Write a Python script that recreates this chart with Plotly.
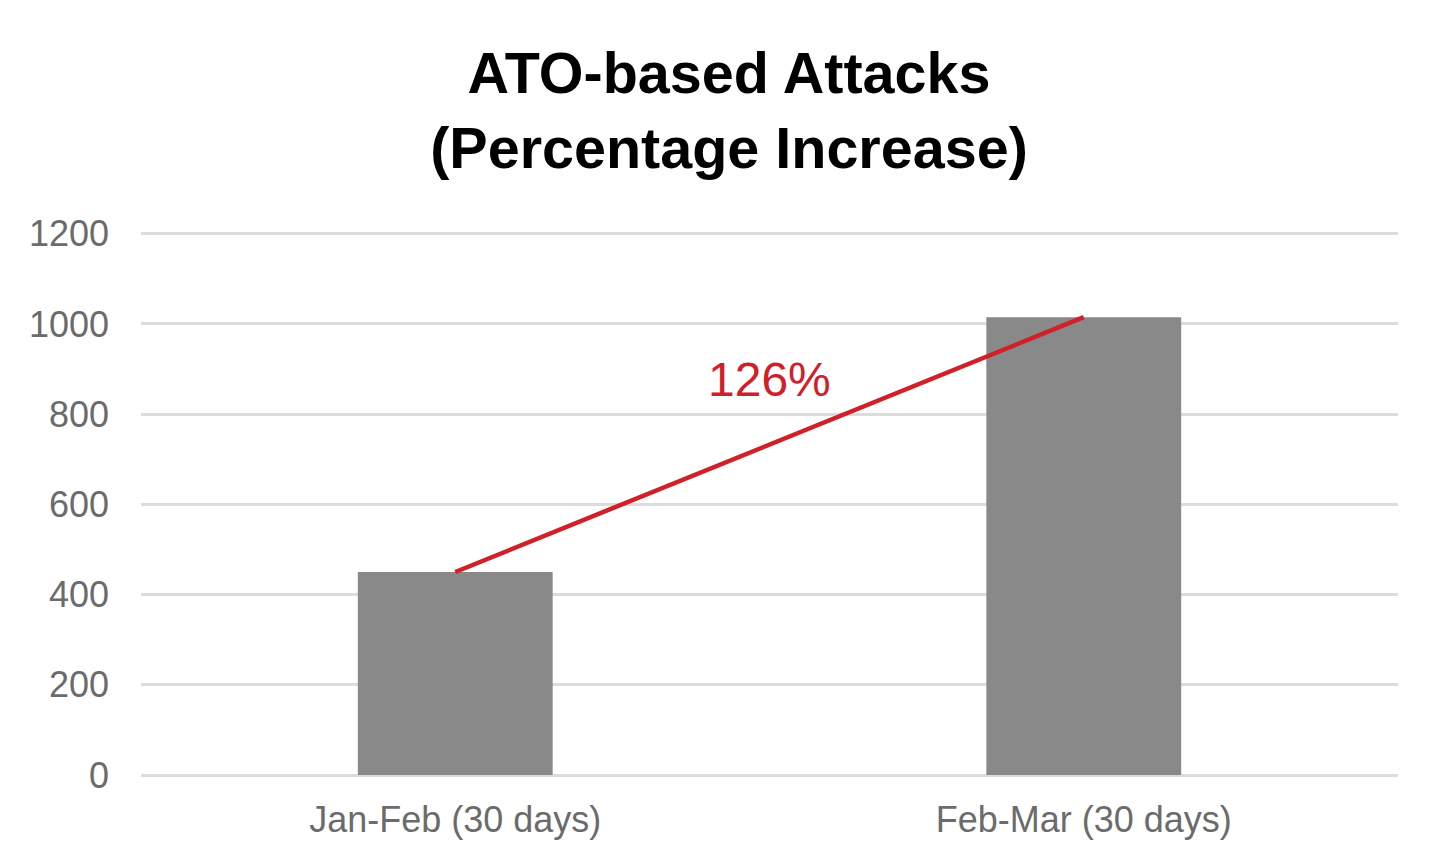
import plotly.graph_objects as go

categories = ["Jan-Feb (30 days)", "Feb-Mar (30 days)"]
attacks = [450, 1015]
increase_label = "126%"
y_ticks = [0, 200, 400, 600, 800, 1000, 1200]

FONT = "Liberation Sans, Arial, Helvetica, sans-serif"

W, H = 1442, 860

fig = go.Figure()
fig.add_trace(go.Bar(
    x=categories, y=attacks,
    marker=dict(color="#898989", line=dict(width=0)),
    showlegend=False, hoverinfo="skip",
))
fig.add_trace(go.Scatter(
    x=categories, y=attacks, mode="lines",
    line=dict(color="#d0202a", width=4.5),
    showlegend=False, hoverinfo="skip",
))
fig.add_annotation(
    x=0.5, xref="paper", y=876, yref="y",
    text=increase_label, showarrow=False,
    font=dict(family=FONT, size=48, color="#d0202a"),
    xanchor="center", yanchor="middle",
)

fig.update_layout(
    width=W, height=H,
    margin=dict(l=133, r=52, t=223, b=93),
    paper_bgcolor="white", plot_bgcolor="white",
    bargap=0.69,
    title=dict(
        text="<b>ATO-based Attacks<br>(Percentage Increase)</b>",
        x=0.5, xref="container", xanchor="center",
        y=1 - 85 / H, yref="container", yanchor="middle",
        font=dict(family=FONT, size=57.5, color="black"),
    ),
    font=dict(family=FONT, size=36, color="#6b6b6b"),
)
fig.update_xaxes(
    showgrid=False, showline=False, zeroline=False,
    ticks="", ticklabelstandoff=20,
    tickfont=dict(family=FONT, size=36, color="#6b6b6b"),
)
fig.update_yaxes(
    range=[0, 1206], tickvals=y_ticks,
    showgrid=True, gridcolor="#dcdcdc", gridwidth=3,
    zeroline=True, zerolinecolor="#dcdcdc", zerolinewidth=3,
    showline=False, ticks="", ticklabelstandoff=31,
    tickfont=dict(family=FONT, size=36, color="#6b6b6b"),
)

fig.write_html("out.html")
